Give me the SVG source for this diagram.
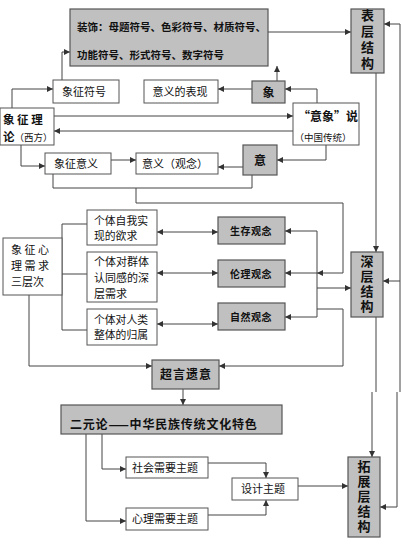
<svg xmlns="http://www.w3.org/2000/svg" width="410" height="554" viewBox="0 0 410 554">
<defs>
<marker id="ah" viewBox="0 0 6 6" refX="6" refY="3" markerWidth="6" markerHeight="6" markerUnits="userSpaceOnUse" orient="auto-start-reverse">
<path d="M0,0 L6,3 L0,6 z" fill="#333"/>
</marker>
<style>
.b{fill:#fff;stroke:#555;stroke-width:1}
.g{fill:#c0c0c0;stroke:#555;stroke-width:1.2}
text{font-family:"Noto Sans CJK SC","Noto Sans",sans-serif;fill:#111}
.t{font-size:11px;text-anchor:middle}
.bd{font-weight:bold;text-anchor:middle}
.v{font-size:13px;font-weight:bold;text-anchor:middle;writing-mode:vertical-rl}
.c line,.c path{fill:none;stroke:#444;stroke-width:1}
.a{marker-end:url(#ah)}
.aa{marker-end:url(#ah);marker-start:url(#ah)}
</style>
</defs>
<rect width="410" height="554" fill="#fff"/>

<g class="c" id="connectors">
<path class="a" d="M62 80 V52 H70"/>
<path class="a" d="M268 32 H351"/>
<path class="a" d="M400 24 H384"/>
<path class="a" d="M400 281 H383"/>
<path d="M400 24 V392"/>
<path class="a" d="M397 392 V507 H380"/>
<path class="a" d="M376 73 V252"/>
<path d="M376 317 V392"/>
<path class="a" d="M372 392 V457"/>
<path class="a" d="M277 81 V66"/>
<path class="a" d="M252 89 H218"/>
<path class="a" d="M317 103 V89 H285"/>
<path class="a" d="M12 108 V89 H53"/>
<path class="a" d="M54 116 H293"/>
<path class="a" d="M293 131 H54"/>
<path class="a" d="M21 145 V166 H45"/>
<path class="a" d="M111 160 H136"/>
<path class="a" d="M326 145 V160 H277"/>
<path class="a" d="M243 167 H218"/>
<path d="M252 175 V188 H53 V174"/>
<path class="a" d="M136 188 V203 H343 V273 H317"/>
<path d="M317 231 V317"/>
<path class="a" d="M317 231 H285"/>
<path class="a" d="M317 273 H285"/>
<path class="a" d="M317 317 H285"/>
<path class="a" d="M317 288 H351"/>
<path class="a" d="M317 309 H343 V366 H219"/>
<path class="aa" d="M157 232 H218"/>
<path class="aa" d="M157 273 H218"/>
<path class="aa" d="M157 324 H218"/>
<path d="M87 224 H62 V330 H87"/>
<path d="M62 274 H87"/>
<path class="a" d="M29 295 V366 H152"/>
<path class="a" d="M183 389 V405"/>
<path class="a" d="M102 434 V469 H126"/>
<path class="a" d="M86 434 V521 H126"/>
<path class="a" d="M208 463 H266 V478"/>
<path class="a" d="M208 515 H266 V500"/>
<path class="a" d="M298 486 H348"/>
</g>

<g id="decoration">
<rect class="g" x="70" y="9" width="198" height="57"/>
<text font-size="10.5" font-weight="bold"><tspan x="77" y="31">装饰：母题符号、色彩符号、材质符号、</tspan><tspan x="77" y="59">功能符号、形式符号、数字符号</tspan></text>
</g>

<g id="surface">
<rect class="g" x="351" y="9" width="33" height="64"/>
<text class="v" x="367.5" y="41" letter-spacing="3">表层结构</text>
</g>

<g id="deep">
<rect class="g" x="351" y="252" width="32" height="65"/>
<text class="v" x="367" y="284.5" letter-spacing="2">深层结构</text>
</g>

<g id="extend">
<rect class="g" x="348" y="457" width="32" height="80"/>
<text class="v" x="364" y="497" letter-spacing="2">拓展层结构</text>
</g>

<g id="symbol">
<rect class="b" x="53" y="80" width="66" height="23"/>
<text class="t" x="84" y="95.5">象征符号</text>
</g>

<g id="expression">
<rect class="b" x="144" y="80" width="74" height="23"/>
<text class="t" x="180" y="95.5">意义的表现</text>
</g>

<g id="xiang">
<rect class="g" x="252" y="81" width="33" height="22"/>
<text class="bd" x="268.5" y="97" font-size="12">象</text>
</g>

<g id="theory-west">
<rect class="b" x="0" y="108" width="54" height="37"/>
<text font-size="11.5" font-weight="bold"><tspan x="3" y="123.5">象 征 理</tspan><tspan x="3" y="140.5">论</tspan><tspan font-size="9.5" font-weight="normal">（西方）</tspan></text>
</g>

<g id="yixiang">
<rect class="b" x="293" y="103" width="66" height="42"/>
<text text-anchor="middle"><tspan x="328" y="121" font-size="12" font-weight="bold">“意象”说</tspan><tspan x="323" y="141" font-size="9.5">（中国传统）</tspan></text>
</g>

<g id="meaning">
<rect class="b" x="45" y="153" width="66" height="21"/>
<text class="t" x="76" y="167.5">象征意义</text>
</g>

<g id="concept">
<rect class="b" x="136" y="153" width="82" height="21"/>
<text class="t" x="175" y="167.5">意义（观念）</text>
</g>

<g id="yi">
<rect class="g" x="243" y="145" width="34" height="30"/>
<text class="bd" x="260" y="165" font-size="12">意</text>
</g>

<g id="psych">
<rect class="b" x="3" y="238" width="59" height="57"/>
<text font-size="11"><tspan x="11" y="254">象 征 心</tspan><tspan x="11" y="270">理 需 求</tspan><tspan x="11" y="286">三层次</tspan></text>
</g>

<g id="need1">
<rect class="b" x="87" y="210" width="70" height="35"/>
<text font-size="10.8"><tspan x="94" y="224.5">个体自我实</tspan><tspan x="94" y="240.2">现的欲求</tspan></text>
</g>

<g id="need2">
<rect class="b" x="87" y="252" width="70" height="50"/>
<text font-size="11"><tspan x="94" y="266">个体对群体</tspan><tspan x="94" y="282">认同感的深</tspan><tspan x="94" y="298">层需求</tspan></text>
</g>

<g id="need3">
<rect class="b" x="87" y="309" width="70" height="36"/>
<text font-size="10.8"><tspan x="94" y="323.5">个体对人类</tspan><tspan x="94" y="339.2">整体的归属</tspan></text>
</g>

<g id="survival">
<rect class="g" x="218" y="217" width="67" height="27"/>
<text class="bd" x="251" y="234.5" font-size="10" letter-spacing="0.5">生存观念</text>
</g>

<g id="ethics">
<rect class="g" x="218" y="260" width="67" height="27"/>
<text class="bd" x="251" y="277.5" font-size="10" letter-spacing="0.5">伦理观念</text>
</g>

<g id="nature">
<rect class="g" x="218" y="303" width="67" height="27"/>
<text class="bd" x="251" y="320.5" font-size="10" letter-spacing="0.5">自然观念</text>
</g>

<g id="beyond">
<rect class="g" x="152" y="360" width="67" height="29"/>
<text class="bd" x="186" y="379" font-size="12" letter-spacing="1">超言遗意</text>
</g>

<g id="dualism">
<rect class="g" x="61" y="405" width="221" height="29"/>
<text x="70" y="428.5" font-size="12" font-weight="bold" letter-spacing="0.8">二元论——中华民族传统文化特色</text>
</g>

<g id="social">
<rect class="b" x="126" y="457" width="82" height="21"/>
<text class="t" x="165" y="471.5">社会需要主题</text>
</g>

<g id="mental">
<rect class="b" x="126" y="508" width="82" height="22"/>
<text class="t" x="165" y="523">心理需要主题</text>
</g>

<g id="design">
<rect class="b" x="232" y="478" width="66" height="22"/>
<text class="t" x="263" y="493">设计主题</text>
</g>
</svg>
